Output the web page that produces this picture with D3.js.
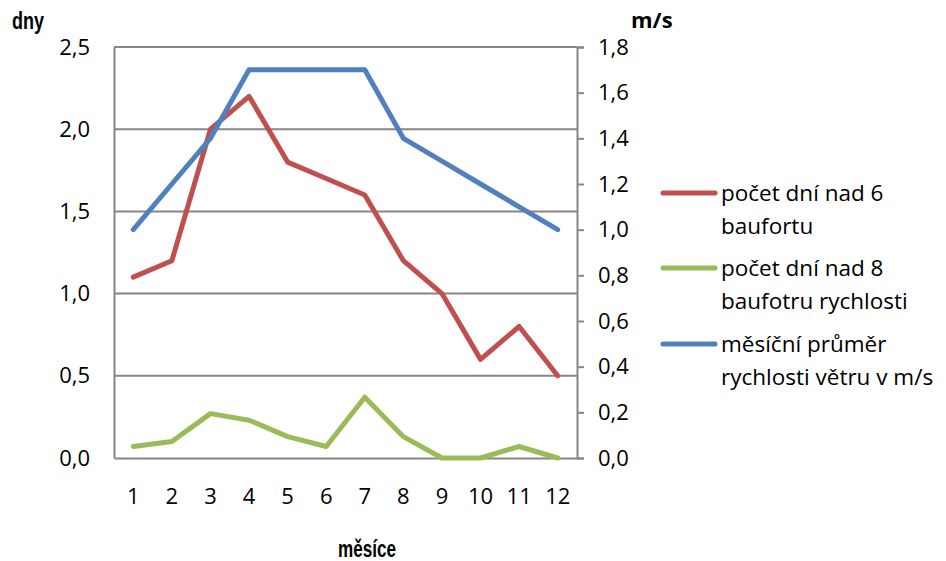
<!DOCTYPE html>
<html><head><meta charset="utf-8">
<script src="https://cdn.jsdelivr.net/npm/d3@7"></script>
<style>body{margin:0;background:#fff}svg{display:block}</style>
</head><body>
<svg id="c" width="946" height="561"></svg>
<script>
const months = ["1","2","3","4","5","6","7","8","9","10","11","12"];
const daysOver6 = [1.1,1.2,2.0,2.2,1.8,1.7,1.6,1.2,1.0,0.6,0.8,0.5];
const daysOver8 = [0.07,0.1,0.27,0.23,0.13,0.07,0.37,0.13,0,0,0.07,0];
const avgSpeed = [1.0,1.2,1.4,1.7,1.7,1.7,1.7,1.4,1.3,1.2,1.1,1.0];
const leftTicks = [0,0.5,1.0,1.5,2.0,2.5];
const rightTicks = [0,0.2,0.4,0.6,0.8,1.0,1.2,1.4,1.6,1.8];
const seriesNames = [["počet dní nad 6","baufortu"],["počet dní nad 8","baufotru rychlosti"],["měsíční průměr","rychlosti větru v m/s"]];
const colors = ["#C0504D","#9BBB59","#4F81BD"];

const svg = d3.select("#c");
const L=114, R=577, T=47, B=458;
const x = d3.scaleBand().domain(months).range([L,R]);
const yL = d3.scaleLinear().domain([0,2.5]).range([B,T]);
const yR = d3.scaleLinear().domain([0,1.8]).range([B,T]);
const font = "'Open Sans', sans-serif";
const fmt = v => d3.format(".1f")(v).replace(".",",");

// gridlines
svg.append("g").selectAll("line").data(leftTicks.filter(d=>d>0)).join("line")
  .attr("x1",L).attr("x2",R).attr("y1",d=>yL(d)).attr("y2",d=>yL(d))
  .attr("stroke","#868686").attr("stroke-width",2);

// left axis
const gL = svg.append("g").attr("transform",`translate(${L},0)`)
  .call(d3.axisLeft(yL).tickValues(leftTicks).tickFormat(fmt).tickSize(0).tickPadding(24));
gL.select(".domain").attr("stroke","#868686").attr("stroke-width",2);
gL.selectAll("text").attr("font-family",font).attr("font-size",22).attr("fill","#000");

// right axis
const gR = svg.append("g").attr("transform",`translate(${R},0)`)
  .call(d3.axisRight(yR).tickValues(rightTicks).tickFormat(fmt).tickSize(7).tickPadding(14));
gR.select(".domain").attr("stroke","#868686").attr("stroke-width",2);
gR.selectAll(".tick line").attr("stroke","#868686").attr("stroke-width",2);
gR.selectAll("text").attr("font-family",font).attr("font-size",22).attr("fill","#000");

// bottom axis
const gB = svg.append("g").attr("transform",`translate(0,${B})`)
  .call(d3.axisBottom(x).tickSize(0).tickPadding(30));
gB.select(".domain").attr("stroke","#868686").attr("stroke-width",2);
gB.selectAll("text").attr("font-family",font).attr("font-size",22).attr("fill","#000");

// lines
const cx = d => x(d)+x.bandwidth()/2;
const mk = (vals, sc) => d3.line().x((d,i)=>cx(months[i])).y(d=>sc(d))(vals);
[[daysOver6,yL,0],[daysOver8,yL,1],[avgSpeed,yR,2]].forEach(([v,sc,i])=>{
  svg.append("path").attr("d",mk(v,sc)).attr("fill","none")
    .attr("stroke",colors[i]).attr("stroke-width",5)
    .attr("stroke-linejoin","round").attr("stroke-linecap","round");
});

// titles
svg.append("text").attr("x",12).attr("y",29).text("dny")
  .attr("font-family","'Liberation Sans', Arial, sans-serif").attr("font-weight","bold")
  .attr("font-size",24).attr("textLength",32).attr("lengthAdjust","spacingAndGlyphs");
svg.append("text").attr("x",631).attr("y",28).text("m/s")
  .attr("font-family",font).attr("font-weight","bold").attr("font-size",22);
svg.append("text").attr("x",367).attr("y",557).attr("text-anchor","middle").text("měsíce")
  .attr("font-family","'Liberation Sans', Arial, sans-serif").attr("font-weight","bold").attr("font-size",23)
  .attr("textLength",58).attr("lengthAdjust","spacingAndGlyphs");

// legend
const lg = svg.append("g");
const ly = [193,268,344];
seriesNames.forEach((nm,i)=>{
  lg.append("line").attr("x1",663).attr("x2",715).attr("y1",ly[i]).attr("y2",ly[i])
    .attr("stroke",colors[i]).attr("stroke-width",5).attr("stroke-linecap","round");
  nm.forEach((t,j)=>{
    lg.append("text").attr("x",721).attr("y",ly[i]+8+j*33).text(t)
      .attr("font-family",font).attr("font-size",22.5).attr("fill","#000");
  });
});
</script>
</body></html>
